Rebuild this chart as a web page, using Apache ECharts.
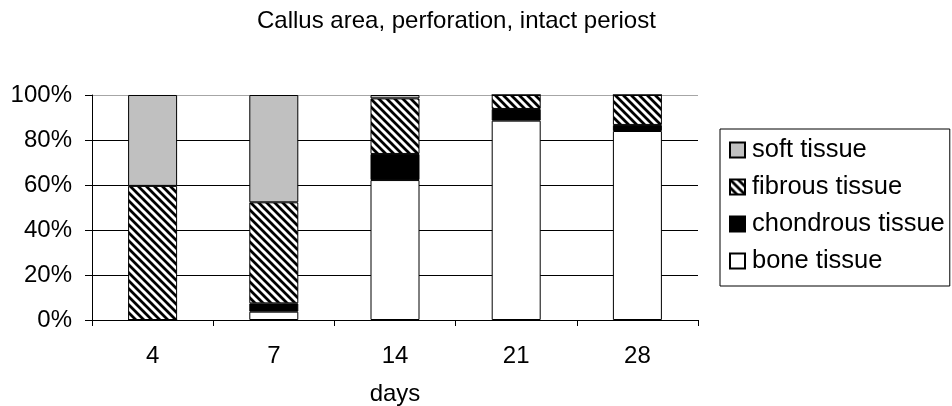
<!DOCTYPE html>
<html lang="en">
  <head>
    <meta charset="UTF-8" />
    <title>Callus area, perforation, intact periost</title>
    <script src="https://cdn.jsdelivr.net/npm/echarts@6/dist/echarts.min.js"></script>
    <style>
      html, body { margin: 0; padding: 0; background: #fff; }
    </style>
  </head>
  <body>
    <div id="main" style="width: 952px; height: 406px"></div>

    <script>
      const days = ['4', '7', '14', '21', '28']
      const boneTissue = [0, 3.7, 62.2, 88.6, 84.0]
      const chondrousTissue = [0, 3.7, 11.6, 5.2, 2.7]
      const fibrousTissue = [59.6, 44.9, 24.7, 6.2, 13.3]
      const softTissue = [40.4, 47.7, 1.5, 0, 0]
      const yTicks = [0, 20, 40, 60, 80, 100]

      const font = 'Liberation Sans, Arial, sans-serif'

      // hatch pattern "\\\" black on white
      function makeHatch() {
        const c = document.createElement('canvas')
        c.width = 8
        c.height = 8
        const ctx = c.getContext('2d')
        ctx.fillStyle = '#fff'
        ctx.fillRect(0, 0, 8, 8)
        ctx.strokeStyle = '#000'
        ctx.lineWidth = 2.8
        ctx.beginPath()
        ctx.moveTo(-2, -2)
        ctx.lineTo(10, 10)
        ctx.moveTo(-2, 6)
        ctx.lineTo(2, 10)
        ctx.moveTo(6, -2)
        ctx.lineTo(10, 2)
        ctx.stroke()
        return c
      }
      const hatch = { image: makeHatch(), repeat: 'repeat' }

      const myChart = echarts.init(document.getElementById('main'))

      function barSeries(name, data, color) {
        return {
          name: name,
          type: 'bar',
          stack: 'total',
          barWidth: 49,
          data: data,
          itemStyle: { color: color, borderColor: '#000', borderWidth: 1 },
          emphasis: { disabled: true },
        }
      }

      const options = {
        animation: false,
        textStyle: { fontFamily: font },
        title: {
          text: 'Callus area, perforation, intact periost',
          left: 257,
          top: 9,
          padding: 0,
          textStyle: { fontFamily: font, fontSize: 24, fontWeight: 'normal', color: '#000' },
        },
        legend: {
          orient: 'vertical',
          left: 720,
          top: 129,
          padding: [8, 5, 12, 9],
          borderColor: '#000',
          borderWidth: 1,
          itemWidth: 15,
          itemHeight: 15,
          itemGap: 11,
          icon: 'rect',
          selectedMode: false,
          data: ['soft tissue', 'fibrous tissue', 'chondrous tissue', 'bone tissue'],
          textStyle: { fontFamily: font, fontSize: 25.5, color: '#000', lineHeight: 26, padding: [0, 0, 0, 2] },
        },
        grid: { left: 92, right: 254, top: 95, bottom: 86, outerBoundsMode: 'none' },
        xAxis: {
          type: 'category',
          data: days,
          name: 'days',
          nameLocation: 'middle',
          nameGap: 62,
          nameTextStyle: { fontFamily: font, fontSize: 24, color: '#000' },
          axisLine: { lineStyle: { color: '#000', width: 1 } },
          axisTick: { show: true, length: 6, lineStyle: { color: '#000' } },
          axisLabel: { fontFamily: font, fontSize: 24, color: '#000', margin: 24 },
        },
        yAxis: {
          type: 'value',
          min: yTicks[0],
          max: yTicks[yTicks.length - 1],
          interval: 20,
          axisLine: { show: true, lineStyle: { color: '#000', width: 1 } },
          axisTick: { show: true, length: 7, lineStyle: { color: '#000' } },
          axisLabel: { fontFamily: font, fontSize: 24, color: '#000', margin: 20, formatter: '{value}%' },
          splitLine: {
            show: true,
            lineStyle: { color: ['#000', '#000', '#000', '#000', '#000', '#a6a6a6'], width: 1 },
          },
        },
        series: [
          barSeries('bone tissue', boneTissue, '#fff'),
          barSeries('chondrous tissue', chondrousTissue, '#000'),
          barSeries('fibrous tissue', fibrousTissue, hatch),
          barSeries('soft tissue', softTissue, '#c0c0c0'),
        ],
      }

      myChart.setOption(options)
    </script>
  </body>
</html>
